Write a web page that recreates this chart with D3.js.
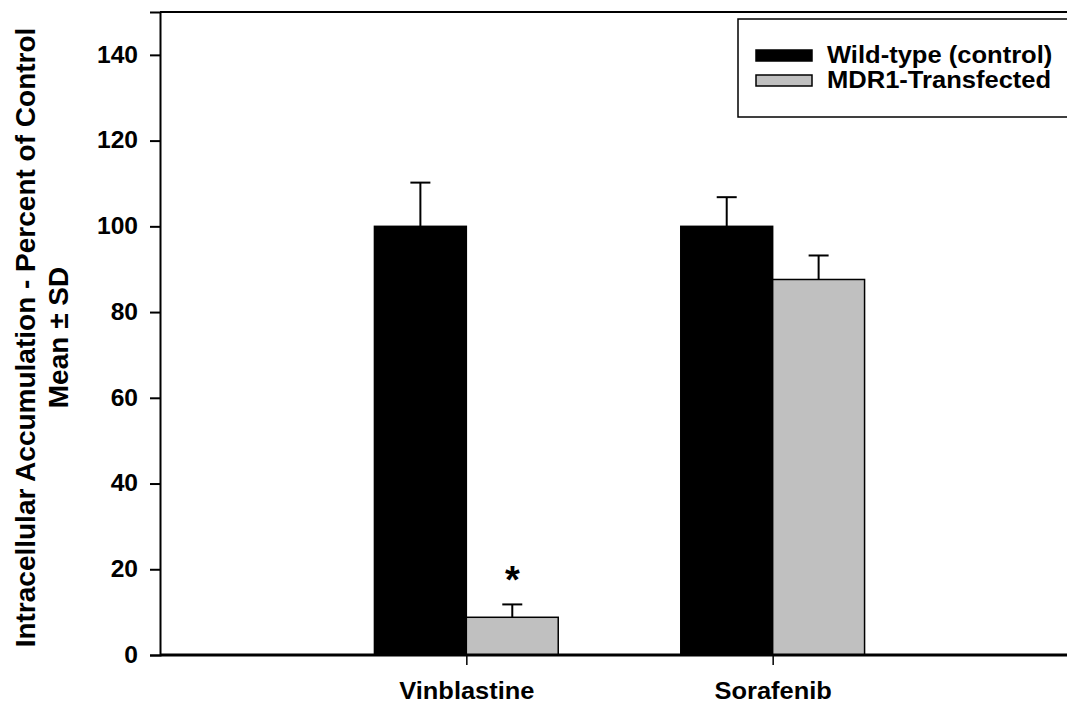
<!DOCTYPE html>
<html>
<head>
<meta charset="utf-8">
<script src="https://cdn.jsdelivr.net/npm/d3@7"></script>
<style>
  body { margin: 0; background: #fff; }
  svg { display: block; font-family: Arial, "Liberation Sans", sans-serif; }
</style>
</head>
<body>
<svg id="chart"></svg>
<script>
// data
const categories = ["Vinblastine", "Sorafenib"];
const seriesNames = ["Wild-type (control)", "MDR1-Transfected"];
const wildType = [100, 100];
const wildTypeSD = [10.2, 6.8];
const mdr1 = [8.8, 87.6];
const mdr1SD = [3.0, 5.6];
const significant = [true, false];
const yTicks = [0, 20, 40, 60, 80, 100, 120, 140];

const W = 1067, H = 704;
const margin = { top: 12, right: 0, bottom: 49, left: 160 };

const svg = d3.select("#chart").attr("width", W).attr("height", H);

const yScale = d3.scaleLinear().domain([0, 150]).range([H - margin.bottom, margin.top]);
// categories sit at 1 and 2 on a 0..3 axis
const xScale = d3.scaleLinear().domain([0, 3]).range([margin.left, 1079]);
const barW = xScale(0.3) - xScale(0);

// the original figure is a bit wider than tall, text is stretched sideways
function stretch(sel, k) {
  sel.each(function() {
    const len = this.getComputedTextLength();
    d3.select(this)
      .attr("textLength", len * k)
      .attr("lengthAdjust", "spacingAndGlyphs");
  });
}

const series = [
  { name: seriesNames[0], values: wildType, sd: wildTypeSD, fill: "#000000", off: -1 },
  { name: seriesNames[1], values: mdr1, sd: mdr1SD, fill: "#c0c0c0", off: 0 }
];

// top frame line
svg.append("line")
  .attr("x1", margin.left).attr("x2", W)
  .attr("y1", margin.top).attr("y2", margin.top)
  .attr("stroke", "#000").attr("stroke-width", 2);

// bars
series.forEach(s => {
  svg.append("g").selectAll("rect")
    .data(categories)
    .enter()
    .append("rect")
    .attr("x", (d, i) => xScale(i + 1) + s.off * barW)
    .attr("y", (d, i) => yScale(s.values[i]))
    .attr("width", barW)
    .attr("height", (d, i) => yScale(0) - yScale(s.values[i]))
    .attr("fill", s.fill)
    .attr("stroke", "#000")
    .attr("stroke-width", 1.5);

  // error bars (upper only)
  const eb = svg.append("g").attr("stroke", "#000").attr("stroke-width", 2);
  categories.forEach((c, i) => {
    const cx = xScale(i + 1) + s.off * barW + barW / 2;
    eb.append("line")
      .attr("x1", cx).attr("x2", cx)
      .attr("y1", yScale(s.values[i])).attr("y2", yScale(s.values[i] + s.sd[i]));
    eb.append("line")
      .attr("x1", cx - 10).attr("x2", cx + 10)
      .attr("y1", yScale(s.values[i] + s.sd[i])).attr("y2", yScale(s.values[i] + s.sd[i]));
  });
});

// significance marks
categories.forEach((c, i) => {
  if (!significant[i]) return;
  svg.append("text")
    .attr("x", xScale(i + 1) + barW / 2)
    .attr("y", yScale(mdr1[i] + mdr1SD[i]) - 11)
    .attr("text-anchor", "middle")
    .style("font-size", "38px")
    .style("font-weight", "bold")
    .text("*");
});

//ось oy
const yAxis = svg.append("g")
  .attr("transform", `translate(${margin.left},0)`)
  .call(d3.axisLeft(yScale).tickValues(yTicks).tickSize(10).tickPadding(12));
yAxis.select(".domain").attr("stroke-width", 2);
yAxis.selectAll(".tick line").attr("stroke-width", 2);
yAxis.selectAll("text")
  .style("font-size", "23px")
  .style("font-weight", "bold")
  .style("fill", "#000")
  .style("font-family", "Arial, 'Liberation Sans', sans-serif")
  .call(stretch, 1.07);

//ось ox
const xAxis = svg.append("g")
  .attr("transform", `translate(0,${yScale(0)})`)
  .call(d3.axisBottom(xScale)
    .tickValues(categories.map((c, i) => i + 1))
    .tickFormat((d) => categories[d - 1])
    .tickSize(10).tickPadding(17));
xAxis.select(".domain").attr("d", `M${margin.left},0H${W}`).attr("stroke-width", 3);
xAxis.selectAll(".tick line").attr("stroke-width", 1.5);
xAxis.selectAll("text")
  .style("font-size", "24px")
  .style("font-weight", "bold")
  .style("fill", "#000")
  .style("font-family", "Arial, 'Liberation Sans', sans-serif")
  .call(stretch, 1.06);

//подпись оси oy
const yMid = (margin.top + yScale(0)) / 2;
svg.append("text")
  .attr("transform", `translate(35,${yMid + 4}) rotate(-90)`)
  .attr("text-anchor", "middle")
  .style("font-size", "28px")
  .style("font-weight", "bold")
  .text("Intracellular Accumulation - Percent of Control");
svg.append("text")
  .attr("transform", `translate(68,${yMid + 4}) rotate(-90)`)
  .attr("text-anchor", "middle")
  .style("font-size", "28px")
  .style("font-weight", "bold")
  .text("Mean ± SD");

// legend
const legend = svg.append("g");
legend.append("rect")
  .attr("x", 738).attr("y", 19)
  .attr("width", 400).attr("height", 98)
  .attr("fill", "#fff").attr("stroke", "#000").attr("stroke-width", 1.5);
series.forEach((s, i) => {
  legend.append("rect")
    .attr("x", 756).attr("y", 50 + i * 25)
    .attr("width", 56).attr("height", 11)
    .attr("fill", s.fill).attr("stroke", "#000").attr("stroke-width", 1.5);
  legend.append("text")
    .attr("x", 827).attr("y", 63 + i * 25)
    .style("font-size", "23px")
    .style("font-weight", "bold")
    .text(s.name)
    .call(stretch, 1.11);
});
</script>
</body>
</html>
